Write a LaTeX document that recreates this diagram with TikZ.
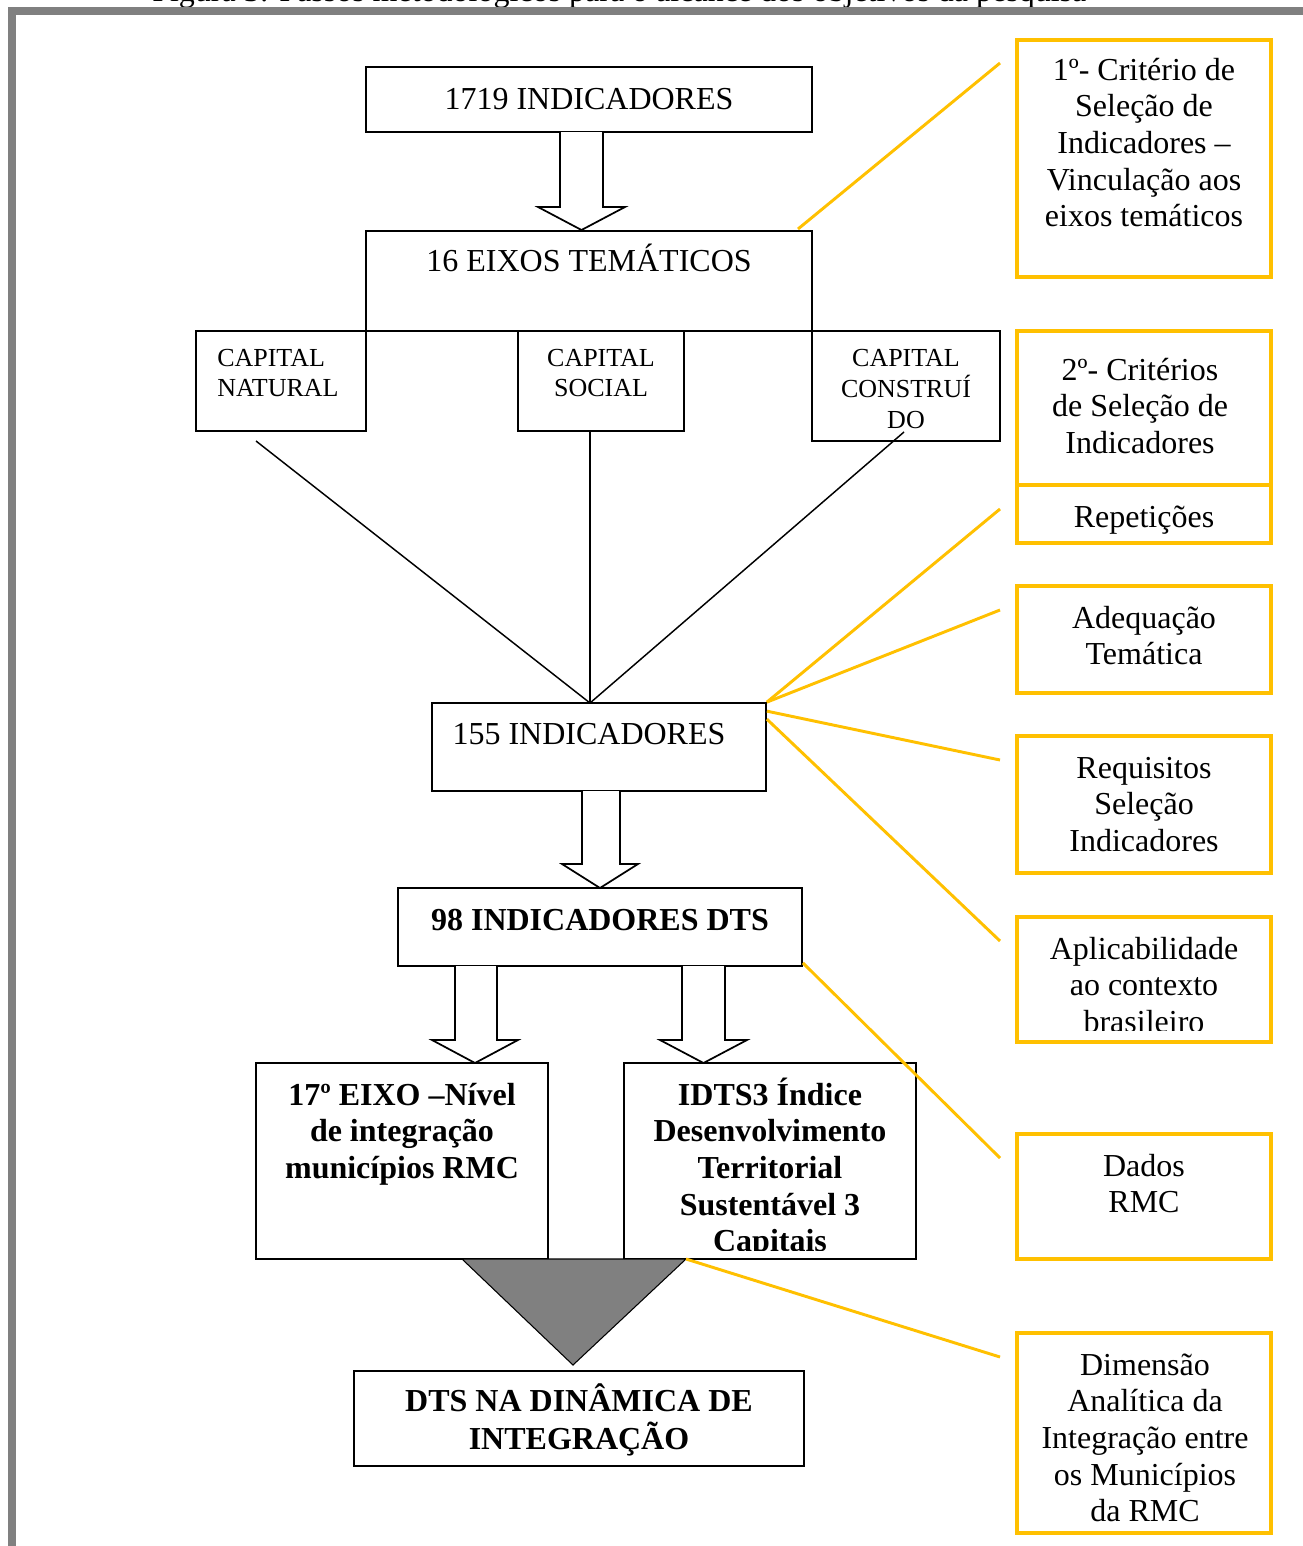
\documentclass[tikz,border=0pt]{standalone}
\usepackage{fontspec}
\setmainfont{Liberation Serif}
\usetikzlibrary{fit,calc}
\definecolor{yel}{RGB}{255,192,0}
\definecolor{framegray}{RGB}{128,128,128}
\newcommand{\mlc}[1]{\begin{tabular}[t]{@{}c@{}}#1\end{tabular}}
\newcommand{\mll}[1]{\begin{tabular}[t]{@{}l@{}}#1\end{tabular}}
\newcommand{\blkarrow}[7]{\draw[barrow] (#1,#3) -- (#1,#4) -- (#5,#4) -- ({(#5+#6)/2},#7) -- (#6,#4) -- (#2,#4) -- (#2,#3);}
\begin{document}
\begin{tikzpicture}[x=0.75pt,y=-0.75pt,
 bbox/.style={draw=black,line width=1.3pt,inner sep=0pt},
 ybox/.style={draw=yel,line width=3pt,inner sep=0pt},
 txt/.style={inner sep=0pt,anchor=base,font=\fontsize{24}{27.5}\selectfont},
 btxt/.style={inner sep=0pt,anchor=base,font=\fontsize{24}{27.5}\selectfont\bfseries},
 stxt/.style={inner sep=0pt,anchor=base,font=\fontsize{19.5}{22.9}\selectfont},
 conn/.style={draw=black,line width=1.1pt},
 yconn/.style={draw=yel,line width=2.2pt},
 barrow/.style={draw=black,line width=1.3pt,fill=white,line join=miter}
]
\useasboundingbox (0,0) rectangle (1303,1546);
\fill[white] (0,0) rectangle (1303,1546);
% caption (cut off at the top)
\node[txt,anchor=base west] (caption) at (152,1) {Figura 3: Passos metodológicos para o alcance dos objetivos da pesquisa};
% frame
\fill[framegray] (8,7) rectangle (1303,15);
\fill[framegray] (8,7) rectangle (16,1546);

% black boxes
\node[bbox,fit={(366,67)(812,132)}] (b1719) {};
\node[bbox,fit={(366,231)(812,331)}] (b16) {};
\node[bbox,fit={(196,331)(366,431)}] (natural) {};
\node[bbox,fit={(518,331)(684,431)}] (social) {};
\node[bbox,fit={(812,331)(1000,441)}] (constr) {};
\node[bbox,fit={(432,703)(766,791)}] (b155) {};
\node[bbox,fit={(398,888)(802,966)}] (b98) {};
\node[bbox,fit={(256,1063)(548,1259)}] (b17) {};
\node[bbox,fit={(624,1063)(916,1259)}] (bidts) {};
\node[bbox,fit={(354,1371)(804,1466)}] (bdts) {};

% texts of black boxes
\node[txt] (t1719) at (589,109) {1719 INDICADORES};
\node[txt] (t16) at (589,271) {16 EIXOS TEMÁTICOS};
\node[stxt,anchor=base west] (tnat) at (217,366) {\mll{CAPITAL\\NATURAL}};
\node[stxt] (tsoc) at (601,366) {\mlc{CAPITAL\\SOCIAL}};
\node[stxt] (tcon) at (906,366) {\mlc{CAPITAL\\CONSTRUÍ\\DO}};
\node[txt] (t155) at (589,744) {155 INDICADORES};
\node[btxt] (t98) at (600,930) {98 INDICADORES DTS};
\node[btxt] (t17) at (402,1105) {\mlc{17º EIXO –Nível\\de integração\\municípios RMC}};
\begin{scope}
\clip (624,1063) rectangle (916,1250);
\node[btxt] (tidts) at (770,1105) {\mlc{IDTS3 Índice\\Desenvolvimento\\Territorial\\Sustentável 3\\Capitais}};
\end{scope}
\node[btxt] (tdts) at (579,1411) {\mlc{DTS NA DINÂMICA DE\\INTEGRAÇÃO}};

% block arrows
\blkarrow{560}{603}{132}{207}{538}{625}{230}
\blkarrow{582}{620}{791}{864}{562}{638}{888}
\blkarrow{455}{497}{966}{1040}{432}{518}{1063}
\blkarrow{682}{725}{966}{1040}{660}{747}{1063}

% thin connectors to 155
\coordinate (conv) at (590,703);
\coordinate (natfoot) at (256,441);
\coordinate (socfoot) at (590,431);
\coordinate (confoot) at (904,432);
\draw[conn] (natfoot) -- (conv);
\draw[conn] (socfoot) -- (conv);
\draw[conn] (confoot) -- (conv);

% gray triangle
\draw[black,line width=0.8pt,fill=framegray] (462,1259) -- (686,1259) -- (573,1365) -- cycle;
\coordinate (triR) at (686,1259);

% yellow boxes
\node[ybox,fit={(1017,40)(1271,277)}] (y1) {};
\node[ybox,fit={(1017,331)(1271,485)}] (y2) {};
\node[ybox,fit={(1017,485)(1271,543)}] (y3) {};
\node[ybox,fit={(1017,586)(1271,693)}] (y4) {};
\node[ybox,fit={(1017,736)(1271,873)}] (y5) {};
\node[ybox,fit={(1017,917)(1271,1042)}] (y6) {};
\node[ybox,fit={(1017,1134)(1271,1259)}] (y7) {};
\node[ybox,fit={(1017,1333)(1271,1533)}] (y8) {};

\node[txt] (ty1) at (1144,80) {\mlc{1º- Critério de\\Seleção de\\Indicadores –\\Vinculação aos\\eixos temáticos}};
\node[txt] (ty2) at (1140,380) {\mlc{2º- Critérios\\de Seleção de\\Indicadores}};
\node[txt] (ty3) at (1144,527) {Repetições};
\node[txt] (ty4) at (1144,628) {\mlc{Adequação\\Temática}};
\node[txt] (ty5) at (1144,778) {\mlc{Requisitos\\Seleção\\Indicadores}};
\begin{scope}
\clip (1019,919) rectangle (1269,1030);
\node[txt] (ty6) at (1144,959) {\mlc{Aplicabilidade\\ao contexto\\brasileiro}};
\end{scope}
\node[txt] (ty7) at (1144,1176) {\mlc{Dados\\RMC}};
\node[txt] (ty8) at (1145,1375) {\mlc{Dimensão\\Analítica da\\Integração entre\\os Municípios\\da RMC}};

% yellow connectors
\coordinate (e1) at (1000,63);
\coordinate (e2) at (1000,509);
\coordinate (e3) at (1000,610);
\coordinate (e4) at (1000,760);
\coordinate (e5) at (1000,941);
\coordinate (e6) at (1000,1158);
\coordinate (e7) at (1000,1357);
\draw[yconn] (798,229) -- (e1);
\draw[yconn] (b155.north east) -- (e2);
\draw[yconn] (b155.north east) -- (e3);
\draw[yconn] ($(b155.north east)+(0,9)$) -- (e4);
\draw[yconn] ($(b155.north east)+(0,17)$) -- (e5);
\draw[yconn] ($(b98.south east)+(0,-4)$) -- (e6);
\draw[yconn] (triR) -- (e7);
\end{tikzpicture}
\end{document}
